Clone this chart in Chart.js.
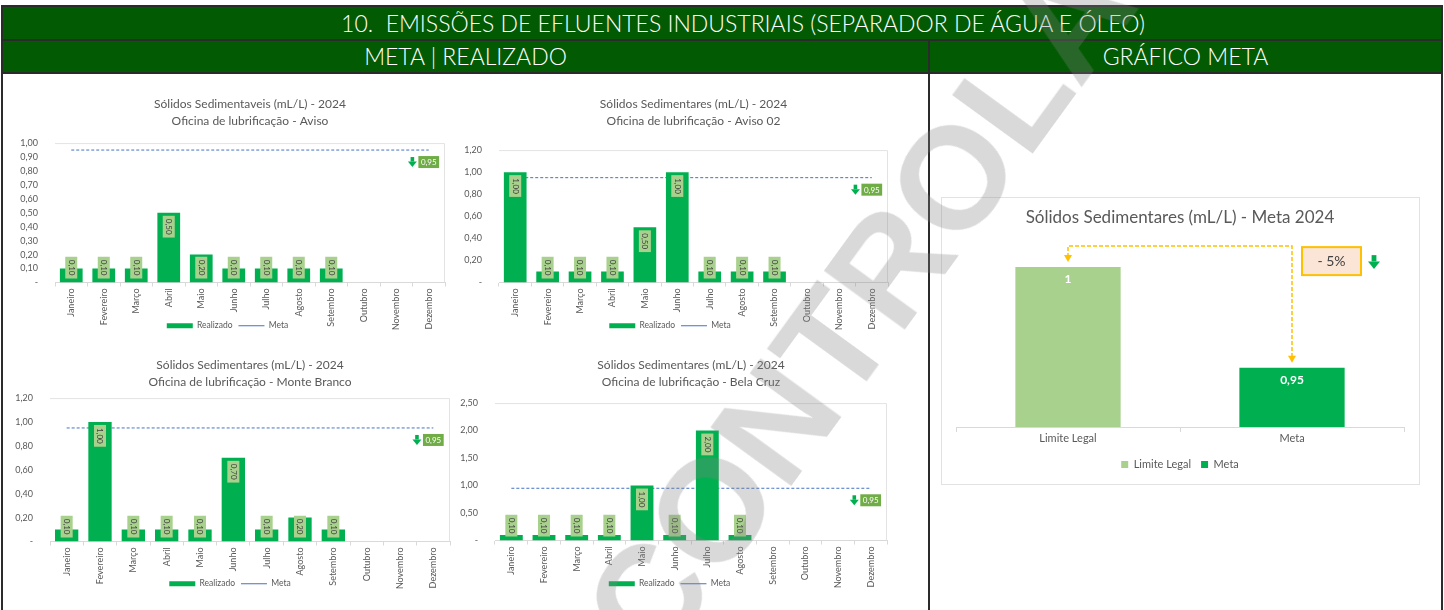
<!DOCTYPE html>
<html lang="pt-BR">
<head>
<meta charset="utf-8">
<title>Emissões de efluentes industriais</title>
<script src="https://cdn.jsdelivr.net/npm/chart.js@4.4.1/dist/chart.umd.min.js"></script>
<style>
  body { margin:0; width:1444px; height:610px; position:relative; overflow:hidden; background:#fff; font-family:Lato, "Open Sans", sans-serif; }
  .faixa { position:absolute; background:#025a02; color:#fff; text-align:center; white-space:pre; box-sizing:border-box; border:2px solid #2b2b2b; font-weight:300; }
  #titulo { left:1px; top:5px; width:1442px; height:36px; font-size:23px; line-height:32px; padding-left:42px; }
  #sub1 { left:1px; top:39px; width:929px; height:35px; font-size:23px; line-height:31px; }
  #sub2 { left:928px; top:39px; width:515px; height:35px; font-size:23px; line-height:31px; }
  .linha { position:absolute; background:#2b2b2b; width:2px; top:73px; height:540px; }
  .grafico { position:absolute; }
  #caixaMeta { position:absolute; left:941px; top:197px; width:477px; height:286px; border:1px solid #e2e2e2; }
  #marca { position:absolute; left:559px; top:598px; font:bold 145px "Liberation Sans", Arial, sans-serif; line-height:145px; color:rgba(128,128,128,0.3); transform-origin:0 0; transform:rotate(-54deg); white-space:nowrap; pointer-events:none; }
</style>
</head>
<body>
<div class="faixa" id="titulo">10.  EMISSÕES DE EFLUENTES INDUSTRIAIS (SEPARADOR DE ÁGUA E ÓLEO)</div>
<div class="faixa" id="sub1">META | REALIZADO</div>
<div class="faixa" id="sub2">GRÁFICO META</div>
<div class="linha" style="left:1px"></div>
<div class="linha" style="left:928px"></div>
<div class="linha" style="left:1441px"></div>

<canvas class="grafico" id="g1" width="442" height="250" style="left:10px;top:92px"></canvas>
<canvas class="grafico" id="g2" width="450" height="250" style="left:452px;top:92px"></canvas>
<canvas class="grafico" id="g3" width="442" height="250" style="left:10px;top:350px"></canvas>
<canvas class="grafico" id="g4" width="450" height="250" style="left:452px;top:350px"></canvas>
<div id="caixaMeta"><canvas id="graficoMeta" width="477" height="286"></canvas></div>

<div id="marca">CONTROLADA</div>

<script>
var meses = ['Janeiro', 'Fevereiro', 'Março', 'Abril', 'Maio', 'Junho', 'Julho', 'Agosto', 'Setembro', 'Outubro', 'Novembro', 'Dezembro'];

var realizadoAviso = [0.10, 0.10, 0.10, 0.50, 0.20, 0.10, 0.10, 0.10, 0.10, null, null, null];
var realizadoAviso02 = [1.00, 0.10, 0.10, 0.10, 0.50, 1.00, 0.10, 0.10, 0.10, null, null, null];
var realizadoMonteBranco = [0.10, 1.00, 0.10, 0.10, 0.10, 0.70, 0.10, 0.20, 0.10, null, null, null];
var realizadoBelaCruz = [0.10, 0.10, 0.10, 0.10, 1.00, 0.10, 2.00, 0.10, null, null, null, null];
var metaMensal = [0.95, 0.95, 0.95, 0.95, 0.95, 0.95, 0.95, 0.95, 0.95, 0.95, 0.95, 0.95];

var tituloAviso = ['Sólidos Sedimentaveis (mL/L) - 2024', 'Oficina de lubrificação - Aviso'];
var tituloAviso02 = ['Sólidos Sedimentares (mL/L) - 2024', 'Oficina de lubrificação - Aviso 02'];
var tituloMonteBranco = ['Sólidos Sedimentares (mL/L) - 2024', 'Oficina de lubrificação - Monte Branco'];
var tituloBelaCruz = ['Sólidos Sedimentares (mL/L) - 2024', 'Oficina de lubrificação - Bela Cruz'];

var categoriasMeta = ['Limite Legal', 'Meta'];
var valorLimiteLegal = [1, null];
var valorMeta = [null, 0.95];
var reducaoMeta = '- 5%';

var verdeBarra = '#00b050';
var verdeClaro = '#a9d18e';
var cinzaTexto = '#595959';

function virgula(v, casas) {
    return v.toFixed(casas).replace('.', ',');
}

function setaVerde(ctx, cx, top, larg, alt) {
    // seta para baixo, haste + ponta
    ctx.fillStyle = verdeBarra;
    ctx.fillRect(cx - larg * 0.2, top, larg * 0.4, alt * 0.45);
    ctx.beginPath();
    ctx.moveTo(cx - larg / 2, top + alt * 0.45);
    ctx.lineTo(cx + larg / 2, top + alt * 0.45);
    ctx.lineTo(cx, top + alt);
    ctx.closePath();
    ctx.fill();
}

var bordaArea = {
    id: 'bordaArea',
    afterLayout: function (chart) {
        // rótulos do eixo x podem invadir a faixa da legenda (como no Excel)
        chart.scales.x.bottom = chart.height;
    },
    beforeDatasetsDraw: function (chart) {
        var a = chart.chartArea, ctx = chart.ctx;
        ctx.save();
        ctx.strokeStyle = '#e3e3e3';
        ctx.lineWidth = 1;
        ctx.beginPath();
        ctx.moveTo(a.left, a.top + 0.5);
        ctx.lineTo(a.right - 0.5, a.top + 0.5);
        ctx.lineTo(a.right - 0.5, a.bottom);
        ctx.stroke();
        ctx.restore();
    }
};

var rotulos = {
    id: 'rotulos',
    afterDatasetsDraw: function (chart) {
        var ctx = chart.ctx;
        var base = chart.scales.y.getPixelForValue(0);
        var barras = chart.getDatasetMeta(0).data;
        var valores = chart.data.datasets[0].data;
        ctx.save();
        ctx.font = '8px Lato';
        barras.forEach(function (bar, i) {
            var v = valores[i];
            if (v == null) return;
            var txt = virgula(v, 2);
            var h = ctx.measureText(txt).width + 6, w = 12;
            var top = bar.y + 3;
            if (top + h > base - 4) top = base - 4 - h;
            ctx.fillStyle = verdeClaro;
            ctx.fillRect(bar.x - w / 2, top, w, h);
            ctx.save();
            ctx.translate(bar.x, top + h / 2);
            ctx.rotate(Math.PI / 2);
            ctx.fillStyle = '#404040';
            ctx.textAlign = 'center';
            ctx.textBaseline = 'middle';
            ctx.fillText(txt, 0, 0);
            ctx.restore();
        });
        // rótulo da meta no último ponto
        var pts = chart.getDatasetMeta(1).data;
        var p = pts[pts.length - 1];
        var mv = chart.data.datasets[1].data[pts.length - 1];
        ctx.font = '8px Lato';
        var bw = ctx.measureText(virgula(mv, 2)).width + 5;
        ctx.fillStyle = '#70ad47';
        ctx.fillRect(p.x - bw / 2, p.y + 6, bw, 12);
        ctx.fillStyle = '#fff';
        ctx.textAlign = 'center';
        ctx.textBaseline = 'middle';
        ctx.fillText(virgula(mv, 2), p.x, p.y + 12.5);
        setaVerde(ctx, p.x - bw / 2 - 6, p.y + 7, 9, 10);
        ctx.restore();
    }
};

function graficoMensal(id, titulo, valores, maxY, passo, lay) {
    return new Chart(document.getElementById(id), {
        type: 'bar',
        data: {
            labels: meses,
            datasets: [
                { type: 'bar', label: 'Realizado', data: valores, backgroundColor: verdeBarra, borderWidth: 0,
                  barPercentage: 0.7, categoryPercentage: 1, pointStyle: 'rect', order: 1 },
                { type: 'line', label: 'Meta', data: metaMensal, borderColor: '#4472c4', borderWidth: 1,
                  borderDash: [3, 2], pointRadius: 0, pointStyle: 'line', fill: false, order: 2 }
            ]
        },
        options: {
            responsive: false,
            animation: false,
            layout: { padding: { left: 0, right: lay.right, top: 0, bottom: 2 } },
            plugins: {
                title: { display: true, fullSize: false, text: titulo, color: cinzaTexto,
                         font: { family: 'Lato', size: 12, weight: 'normal', lineHeight: 1.42 },
                         padding: { top: lay.tTop, bottom: lay.tBottom } },
                legend: { position: 'bottom',
                          labels: { usePointStyle: true, pointStyleWidth: 26, boxHeight: 5, color: cinzaTexto,
                                    font: { family: 'Lato', size: 8.5 }, padding: 6 } },
                tooltip: { enabled: false }
            },
            scales: {
                x: {
                    grid: { display: true, drawOnChartArea: false, color: '#d9d9d9', tickLength: 4, offset: true },
                    border: { color: '#d9d9d9' },
                    ticks: { color: cinzaTexto, font: { family: 'Lato', size: 9 }, minRotation: 90, maxRotation: 90,
                             autoSkip: false, padding: 2 },
                    afterFit: function (s) { s.height = lay.xh; }
                },
                y: {
                    min: 0, max: maxY,
                    grid: { display: false },
                    border: { display: false },
                    ticks: { stepSize: passo, color: cinzaTexto, font: { family: 'Lato', size: 9 }, padding: 9,
                             callback: function (v) { return v === 0 ? '-' : virgula(v, 2); } },
                    afterFit: function (s) { s.width = lay.yw; }
                }
            }
        },
        plugins: [bordaArea, rotulos]
    });
}

graficoMensal('g1', tituloAviso, realizadoAviso, 1.0, 0.1, { yw: 45, right: 7, tTop: 3.5, tBottom: 13.5, xh: 33 });
graficoMensal('g2', tituloAviso02, realizadoAviso02, 1.2, 0.2, { yw: 47, right: 14, tTop: 3.5, tBottom: 20.5, xh: 33 });
graficoMensal('g3', tituloMonteBranco, realizadoMonteBranco, 1.2, 0.2, { yw: 40, right: 2, tTop: 6.5, tBottom: 7.5, xh: 32 });
graficoMensal('g4', tituloBelaCruz, realizadoBelaCruz, 2.5, 0.5, { yw: 43, right: 15, tTop: 6.5, tBottom: 12.5, xh: 33 });

var setasMeta = {
    id: 'setasMeta',
    afterDatasetsDraw: function (chart) {
        var ctx = chart.ctx;
        var b0 = chart.getDatasetMeta(0).data[0];
        var b1 = chart.getDatasetMeta(1).data[1];
        var yTopo = b0.y - 21;
        ctx.save();
        // valores dentro das barras
        ctx.font = 'bold 12px Lato';
        ctx.fillStyle = '#fff';
        ctx.textAlign = 'center';
        ctx.textBaseline = 'middle';
        ctx.fillText(String(chart.data.datasets[0].data[0]).replace('.', ','), b0.x, b0.y + 12);
        ctx.fillText(virgula(chart.data.datasets[1].data[1], 2), b1.x, b1.y + 12);
        // conector tracejado
        ctx.strokeStyle = '#ffc000';
        ctx.fillStyle = '#ffc000';
        ctx.lineWidth = 1.5;
        ctx.setLineDash([4, 2]);
        ctx.beginPath();
        ctx.moveTo(b0.x, b0.y - 10);
        ctx.lineTo(b0.x, yTopo);
        ctx.lineTo(b1.x, yTopo);
        ctx.lineTo(b1.x, b1.y - 10);
        ctx.stroke();
        ctx.setLineDash([]);
        [[b0.x, b0.y - 5], [b1.x, b1.y - 5]].forEach(function (s) {
            ctx.beginPath();
            ctx.moveTo(s[0] - 4, s[1] - 7);
            ctx.lineTo(s[0] + 4, s[1] - 7);
            ctx.lineTo(s[0], s[1]);
            ctx.closePath();
            ctx.fill();
        });
        // caixa -5%
        var bx = b1.x + 10, by = yTopo + 1;
        ctx.fillStyle = '#fbe5d6';
        ctx.fillRect(bx, by, 59, 28);
        ctx.lineWidth = 2;
        ctx.strokeRect(bx, by, 59, 28);
        ctx.fillStyle = '#404040';
        ctx.font = '14px Lato';
        ctx.fillText(reducaoMeta, bx + 29.5, by + 14.5);
        setaVerde(ctx, bx + 72, by + 8, 12, 14);
        ctx.restore();
    }
};

new Chart(document.getElementById('graficoMeta'), {
    type: 'bar',
    data: {
        labels: categoriasMeta,
        datasets: [
            { label: 'Limite Legal', data: valorLimiteLegal, backgroundColor: verdeClaro, grouped: false,
              barPercentage: 0.47, categoryPercentage: 1 },
            { label: 'Meta', data: valorMeta, backgroundColor: verdeBarra, grouped: false,
              barPercentage: 0.47, categoryPercentage: 1 }
        ]
    },
    options: {
        responsive: false,
        animation: false,
        layout: { padding: { left: 14, right: 15, top: 0, bottom: 4 } },
        plugins: {
            title: { display: true, text: 'Sólidos Sedimentares (mL/L) - Meta 2024', color: cinzaTexto,
                     font: { family: 'Lato', size: 17, weight: 'normal' }, padding: { top: 9, bottom: 18.6 } },
            legend: { position: 'bottom',
                      labels: { boxWidth: 7, boxHeight: 7, color: cinzaTexto, font: { family: 'Lato', size: 11 }, padding: 10 } },
            tooltip: { enabled: false }
        },
        scales: {
            x: {
                grid: { display: true, drawOnChartArea: false, color: '#d9d9d9', tickLength: 5, offset: true },
                border: { color: '#d9d9d9' },
                ticks: { color: cinzaTexto, font: { family: 'Lato', size: 11 }, padding: 0 },
                afterFit: function (s) { s.height = 22; }
            },
            y: { display: false, min: 0.9205, max: 1.0105 }
        }
    },
    plugins: [setasMeta]
});
</script>
</body>
</html>
